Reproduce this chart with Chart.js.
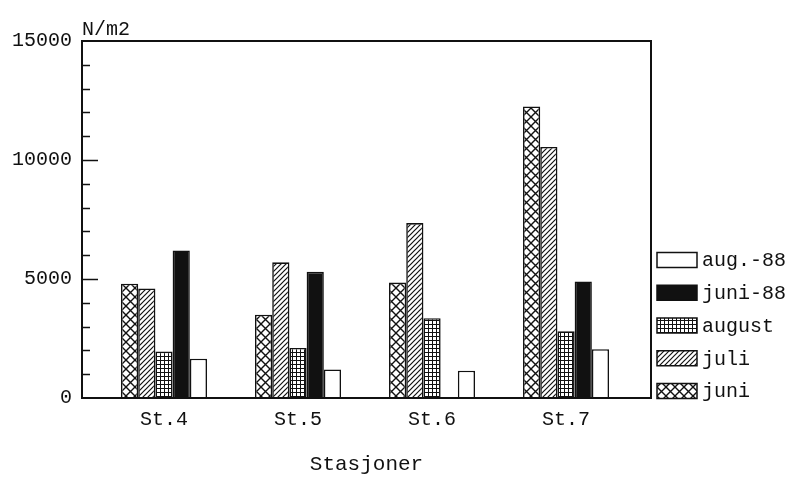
<!DOCTYPE html>
<html>
<head>
<meta charset="utf-8">
<script src="https://cdn.jsdelivr.net/npm/chart.js@4"></script>
<style>
  html, body { margin: 0; padding: 0; background: #fff; }
  #wrap { width: 793px; height: 477px; }
</style>
</head>
<body>
<div id="wrap"><canvas id="chart" width="793" height="477"></canvas></div>
<script>
// Stations and series (N/m2)
const categories = ["St.4", "St.5", "St.6", "St.7"]
const juni = [4800, 3500, 4850, 12250]
const juli = [4600, 5700, 7350, 10550]
const august = [1950, 2100, 3350, 2800]
const juni88 = [6200, 5300, null, 4900]
const aug88 = [1650, 1200, 1150, 2050]
const yTicks = [0, 5000, 10000, 15000]
const yMinorStep = 1000

const FONT = "'Liberation Mono', 'DejaVu Sans Mono', monospace"
const INK = "#111"

// hatch fills like the old plotter output
function makePattern(size, draw) {
  const c = document.createElement("canvas")
  c.width = size[0]
  c.height = size[1]
  const g = c.getContext("2d")
  g.fillStyle = "#fff"
  g.fillRect(0, 0, c.width, c.height)
  g.strokeStyle = INK
  draw(g, c.width, c.height)
  return g.createPattern(c, "repeat")
}

const crossFill = makePattern([9, 9], (g, w, h) => {
  g.lineWidth = 1.4
  g.beginPath()
  g.moveTo(0, 0); g.lineTo(w, h)
  g.moveTo(0, h); g.lineTo(w, 0)
  g.stroke()
})

const diagFill = makePattern([5, 5], (g, w, h) => {
  g.lineWidth = 1.2
  g.beginPath()
  g.moveTo(-1, h + 1); g.lineTo(w + 1, -1)
  g.moveTo(-1, 1); g.lineTo(1, -1)
  g.moveTo(w - 1, h + 1); g.lineTo(w + 1, h - 1)
  g.stroke()
})

const gridFill = makePattern([4, 4], (g, w, h) => {
  g.fillStyle = INK
  g.fillRect(0, 0, w, 1)
  g.fillRect(0, 0, 1, h)
})

function points(values) {
  return values.map((v, i) => ({ x: i + 1, y: v }))
}

function series(label, values, fill) {
  return {
    label: label,
    data: points(values),
    backgroundColor: fill,
    borderColor: INK,
    borderWidth: 1.6,
    barPercentage: 1,
    categoryPercentage: 0.642,
  }
}

// frame, inward ticks and unit label
const framePlugin = {
  id: "frame",
  afterDatasetsDraw(chart) {
    const { ctx, chartArea: a } = chart
    const y = chart.scales.y
    ctx.save()
    ctx.strokeStyle = INK
    ctx.lineWidth = 2
    ctx.strokeRect(a.left, a.top, a.right - a.left, a.bottom - a.top)

    ctx.lineWidth = 1.5
    ctx.beginPath()
    for (let v = yMinorStep; v < y.max; v += yMinorStep) {
      const py = Math.round(y.getPixelForValue(v)) + 0.5
      const len = yTicks.includes(v) ? 16 : 8
      ctx.moveTo(a.left, py)
      ctx.lineTo(a.left + len, py)
    }
    ctx.stroke()

    ctx.fillStyle = INK
    ctx.font = "20px " + FONT
    ctx.textAlign = "left"
    ctx.textBaseline = "alphabetic"
    ctx.fillText("N/m2", a.left, a.top - 6)
    ctx.restore()
  },
}

// legend boxes to the right of the frame, last series on top
const legendPlugin = {
  id: "sideLegend",
  afterDraw(chart) {
    const { ctx, chartArea: a } = chart
    const sets = chart.data.datasets
    const rowGap = 32.75
    ctx.save()
    ctx.font = "20px " + FONT
    ctx.textAlign = "left"
    ctx.textBaseline = "middle"
    sets.forEach((ds, i) => {
      const cy = a.bottom - 7 - i * rowGap
      const bx = a.right + 6
      ctx.fillStyle = ds.backgroundColor
      ctx.fillRect(bx, cy - 7.5, 40, 15)
      ctx.strokeStyle = INK
      ctx.lineWidth = 1.5
      ctx.strokeRect(bx, cy - 7.5, 40, 15)
      ctx.fillStyle = INK
      ctx.fillText(ds.label, bx + 45, cy + 1)
    })
    ctx.restore()
  },
}

new Chart(document.getElementById("chart"), {
  type: "bar",
  data: {
    datasets: [
      series("juni", juni, crossFill),
      series("juli", juli, diagFill),
      series("august", august, gridFill),
      series("juni-88", juni88, INK),
      series("aug.-88", aug88, "#fff"),
    ],
  },
  options: {
    responsive: false,
    animation: false,
    layout: { padding: { top: 41, right: 142, left: 0, bottom: 0 } },
    plugins: {
      legend: { display: false },
      tooltip: { enabled: false },
    },
    scales: {
      x: {
        type: "linear",
        offset: false,
        min: 0.388,
        max: 4.634,
        grid: { display: false, drawTicks: false },
        border: { display: false },
        afterBuildTicks: (scale) => {
          scale.ticks = categories.map((c, i) => ({ value: i + 1 }))
        },
        afterFit: (scale) => {
          scale.height = 79
        },
        ticks: {
          color: INK,
          font: { family: FONT, size: 20 },
          padding: 10,
          maxRotation: 0,
          autoSkip: false,
          callback: (v) => categories[v - 1] || "",
        },
        title: {
          display: true,
          text: "Stasjoner",
          color: INK,
          font: { family: FONT, size: 21 },
          padding: { top: 10, bottom: 0 },
        },
      },
      y: {
        min: 0,
        max: 15000,
        grid: { display: false, drawTicks: false },
        border: { display: false },
        afterBuildTicks: (scale) => {
          scale.ticks = yTicks.map((v) => ({ value: v }))
        },
        afterFit: (scale) => {
          scale.width = 82
        },
        ticks: {
          color: INK,
          font: { family: FONT, size: 20 },
          padding: 10,
          callback: (v) => String(v),
        },
      },
    },
  },
  plugins: [framePlugin, legendPlugin],
})
</script>
</body>
</html>
